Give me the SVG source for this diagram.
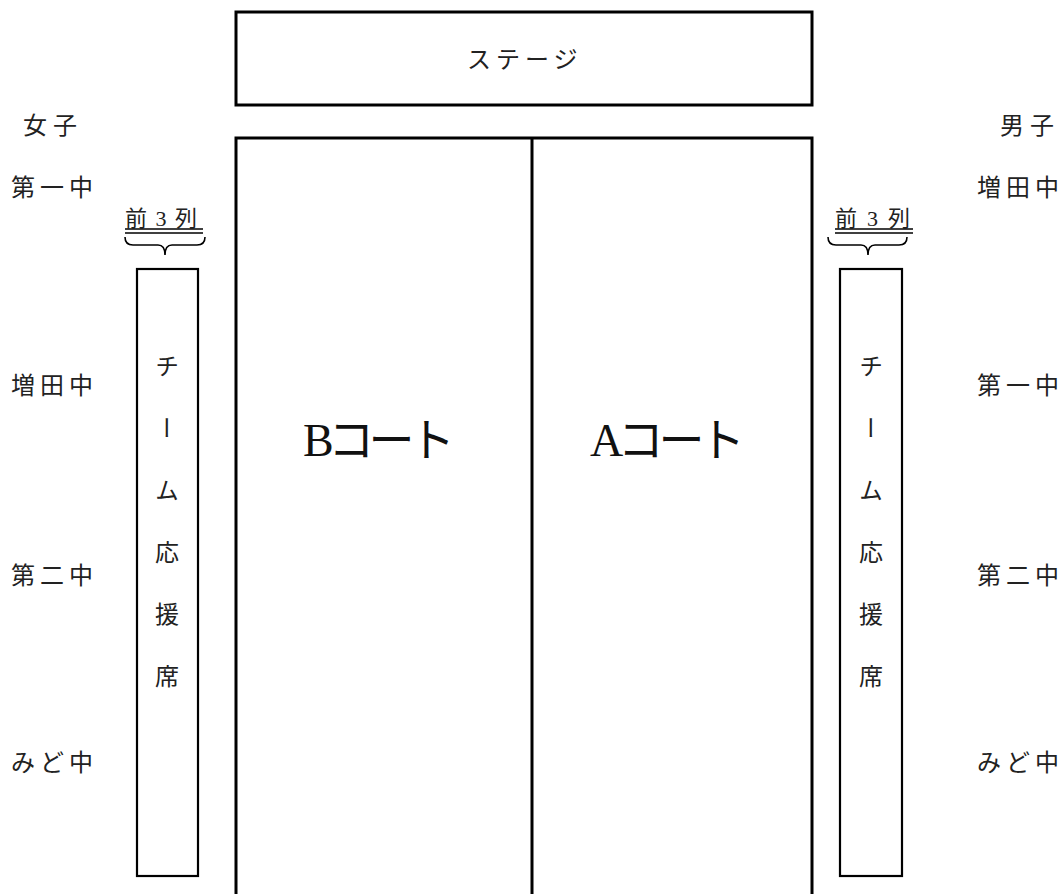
<svg xmlns="http://www.w3.org/2000/svg" width="1064" height="894" viewBox="0 0 1064 894">
<style>
.ln{fill:none;stroke:#000;stroke-width:3}
.st{fill:none;stroke:#000;stroke-width:2.2}
.t{font-family:"Liberation Serif","Noto Sans CJK JP",serif;font-size:24px;fill:#222;letter-spacing:5px}
.big{font-family:"Liberation Serif","Noto Sans CJK JP",serif;font-size:46px;fill:#111}
.v{font-family:"Noto Sans CJK JP",sans-serif;font-size:24px;fill:#222;writing-mode:vertical-rl;letter-spacing:38px}
.br{fill:none;stroke:#000;stroke-width:1.6}
</style>
<rect width="1064" height="894" fill="#fff"/>
<g id="stage">
<rect class="ln" x="236" y="12" width="576" height="93"/>
<text class="t" x="467" y="68">ステージ</text>
</g>
<g id="courts">
<path class="ln" d="M236,900 V138 H812 V900"/>
<line class="ln" x1="532" y1="138" x2="532" y2="900"/>
<text class="big" x="303" y="456" textLength="152" lengthAdjust="spacing">Bコート</text>
<text class="big" x="590" y="456" textLength="155" lengthAdjust="spacing">Aコート</text>
</g>
<g id="left-stand">
<rect class="st" x="137" y="269" width="61" height="607"/>
<text class="v" x="167" y="354">チーム応援席</text>
<text class="t" x="125" y="226" textLength="72" lengthAdjust="spacing" style="letter-spacing:0;font-size:22px">前3列</text>
<line class="br" x1="125" y1="229" x2="203" y2="229"/>
<line class="br" x1="125" y1="233" x2="203" y2="233"/>
<path class="br" d="M125,237 Q125,245 133,245 H158 Q165,245 165,255 Q165,245 172,245 H197 Q205,245 205,237"/>
</g>
<g id="right-stand">
<rect class="st" x="840" y="269" width="62" height="607"/>
<text class="v" x="871" y="354">チーム応援席</text>
<text class="t" x="835" y="226" textLength="75" lengthAdjust="spacing" style="letter-spacing:0;font-size:22px">前3列</text>
<line class="br" x1="835" y1="229" x2="913" y2="229"/>
<line class="br" x1="835" y1="233" x2="913" y2="233"/>
<path class="br" d="M828,237 Q828,245 836,245 H861 Q868,245 868,255 Q868,245 875,245 H899 Q907,245 907,237"/>
</g>
<g id="girls">
<text class="t" x="23" y="134" style="letter-spacing:6px">女子</text>
<text class="t" x="11" y="196">第一中</text>
<text class="t" x="11" y="394">増田中</text>
<text class="t" x="11" y="584">第二中</text>
<text class="t" x="11" y="771">みど中</text>
</g>
<g id="boys">
<text class="t" x="1000" y="134" style="letter-spacing:6px">男子</text>
<text class="t" x="977" y="196">増田中</text>
<text class="t" x="977" y="394">第一中</text>
<text class="t" x="977" y="584">第二中</text>
<text class="t" x="977" y="771">みど中</text>
</g>
</svg>
